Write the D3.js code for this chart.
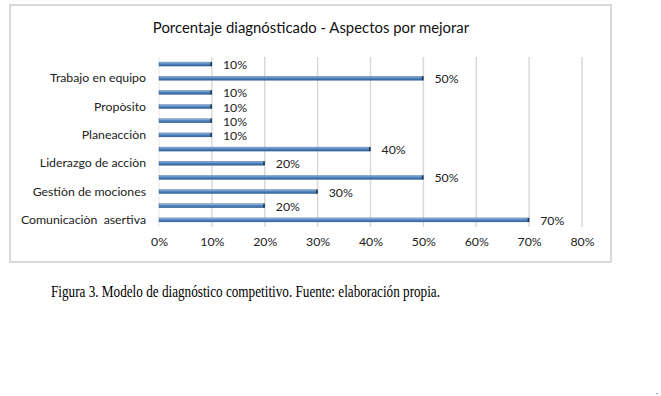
<!DOCTYPE html>
<meta charset="utf-8">
<style>
body { margin: 0; background: #fff; }
text { font-family: Lato, "Open Sans", sans-serif; }
</style>
<svg width="661" height="396"></svg>
<script src="https://d3js.org/d3.v7.min.js"></script>
<script>

// top to bottom, only every other bar carries a label
var labels = ["", "Trabajo en equipo", "", "Propòsito", "", "Planeacciòn", "",
  "Liderazgo de acciòn", "", "Gestiòn de mociones", "", "Comunicaciòn  asertiva"];
var values = [0.10, 0.50, 0.10, 0.10, 0.10, 0.10, 0.40, 0.20, 0.50, 0.30, 0.20, 0.70];
var ticks = [0, 0.1, 0.2, 0.3, 0.4, 0.5, 0.6, 0.7, 0.8];

var svg = d3.select("svg");

var defs = svg.append("defs");
var grad = defs.append("linearGradient").attr("id", "barg")
  .attr("x1", 0).attr("y1", 0).attr("x2", 0).attr("y2", 1);
grad.append("stop").attr("offset", "0%").attr("stop-color", "#9dbde3");
grad.append("stop").attr("offset", "50%").attr("stop-color", "#4f81bd");
grad.append("stop").attr("offset", "100%").attr("stop-color", "#2f5f96");

// chart frame
svg.append("rect")
  .attr("x", 10).attr("y", 5).attr("width", 601).attr("height", 257)
  .attr("fill", "#fff").attr("stroke", "#d9d9d9").attr("stroke-width", 2);

svg.append("text")
  .attr("x", 311).attr("y", 33)
  .attr("text-anchor", "middle")
  .style("font-size", "14.9px").attr("fill", "#111")
  .text("Porcentaje diagnósticado - Aspectos por mejorar");

var x = d3.scaleLinear().domain([0, 0.8]).range([159, 582]);
var y = d3.scaleBand().domain(d3.range(values.length)).range([57, 227]);

// gridlines
svg.append("g")
  .selectAll("line")
  .data(ticks.slice(1))
  .enter().append("line")
    .attr("x1", function(d) { return x(d); })
    .attr("x2", function(d) { return x(d); })
    .attr("y1", 57).attr("y2", 227)
    .attr("stroke", "#d9d9d9").attr("stroke-width", 1.5);

svg.append("line")
  .attr("x1", x(0)).attr("x2", x(0)).attr("y1", 57).attr("y2", 227)
  .attr("stroke", "#e6e6e6").attr("stroke-width", 1);

var fs = "12.3px";

// x axis labels
var xAxis = d3.axisBottom(x).tickValues(ticks).tickSize(0).tickPadding(0)
  .tickFormat(d3.format(".0%"));
var gx = svg.append("g").attr("transform", "translate(0,237)").call(xAxis);
gx.select(".domain").remove();
gx.selectAll("text").style("font-size", fs).style("font-family", "Lato, sans-serif").attr("fill", "#222");

// y axis labels
var yAxis = d3.axisLeft(y).tickSize(0).tickPadding(0)
  .tickFormat(function(i) { return labels[i]; });
var gy = svg.append("g").attr("transform", "translate(146,0)").call(yAxis);
gy.select(".domain").remove();
gy.selectAll("text").style("font-size", fs).style("font-family", "Lato, sans-serif")
  .attr("fill", "#222").style("white-space", "pre");

// bars
var bar = svg.append("g")
  .selectAll("g")
  .data(values)
  .enter().append("g")
    .attr("transform", function(d, i) { return "translate(0," + (y(i) + y.bandwidth() / 2) + ")"; });

bar.append("rect")
  .attr("x", x(0))
  .attr("y", -2)
  .attr("width", function(d) { return x(d) - x(0); })
  .attr("height", 4)
  .attr("fill", "url(#barg)")
  .attr("stroke", "#3a6595").attr("stroke-width", 0.4);

bar.append("rect")
  .attr("x", function(d) { return x(d) - 1.5; })
  .attr("y", -2).attr("width", 1.5).attr("height", 4)
  .attr("fill", "#1f3550");

bar.append("text")
  .attr("x", function(d) { return x(d) + 11; })
  .attr("y", 5)
  .style("font-size", fs).attr("fill", "#222")
  .text(function(d) { return d3.format(".0%")(d); });

// caption
svg.append("text")
  .attr("x", 51).attr("y", 297)
  .attr("textLength", 389).attr("lengthAdjust", "spacingAndGlyphs")
  .style("font-family", "'Liberation Serif', 'Times New Roman', serif")
  .style("font-size", "16px").attr("fill", "#000")
  .text("Figura 3. Modelo de diagnóstico competitivo. Fuente: elaboración propia.");

svg.append("text")
  .attr("x", 656).attr("y", 394)
  .style("font-size", "8px").attr("fill", "#00008b")
  .text(".");
</script>
